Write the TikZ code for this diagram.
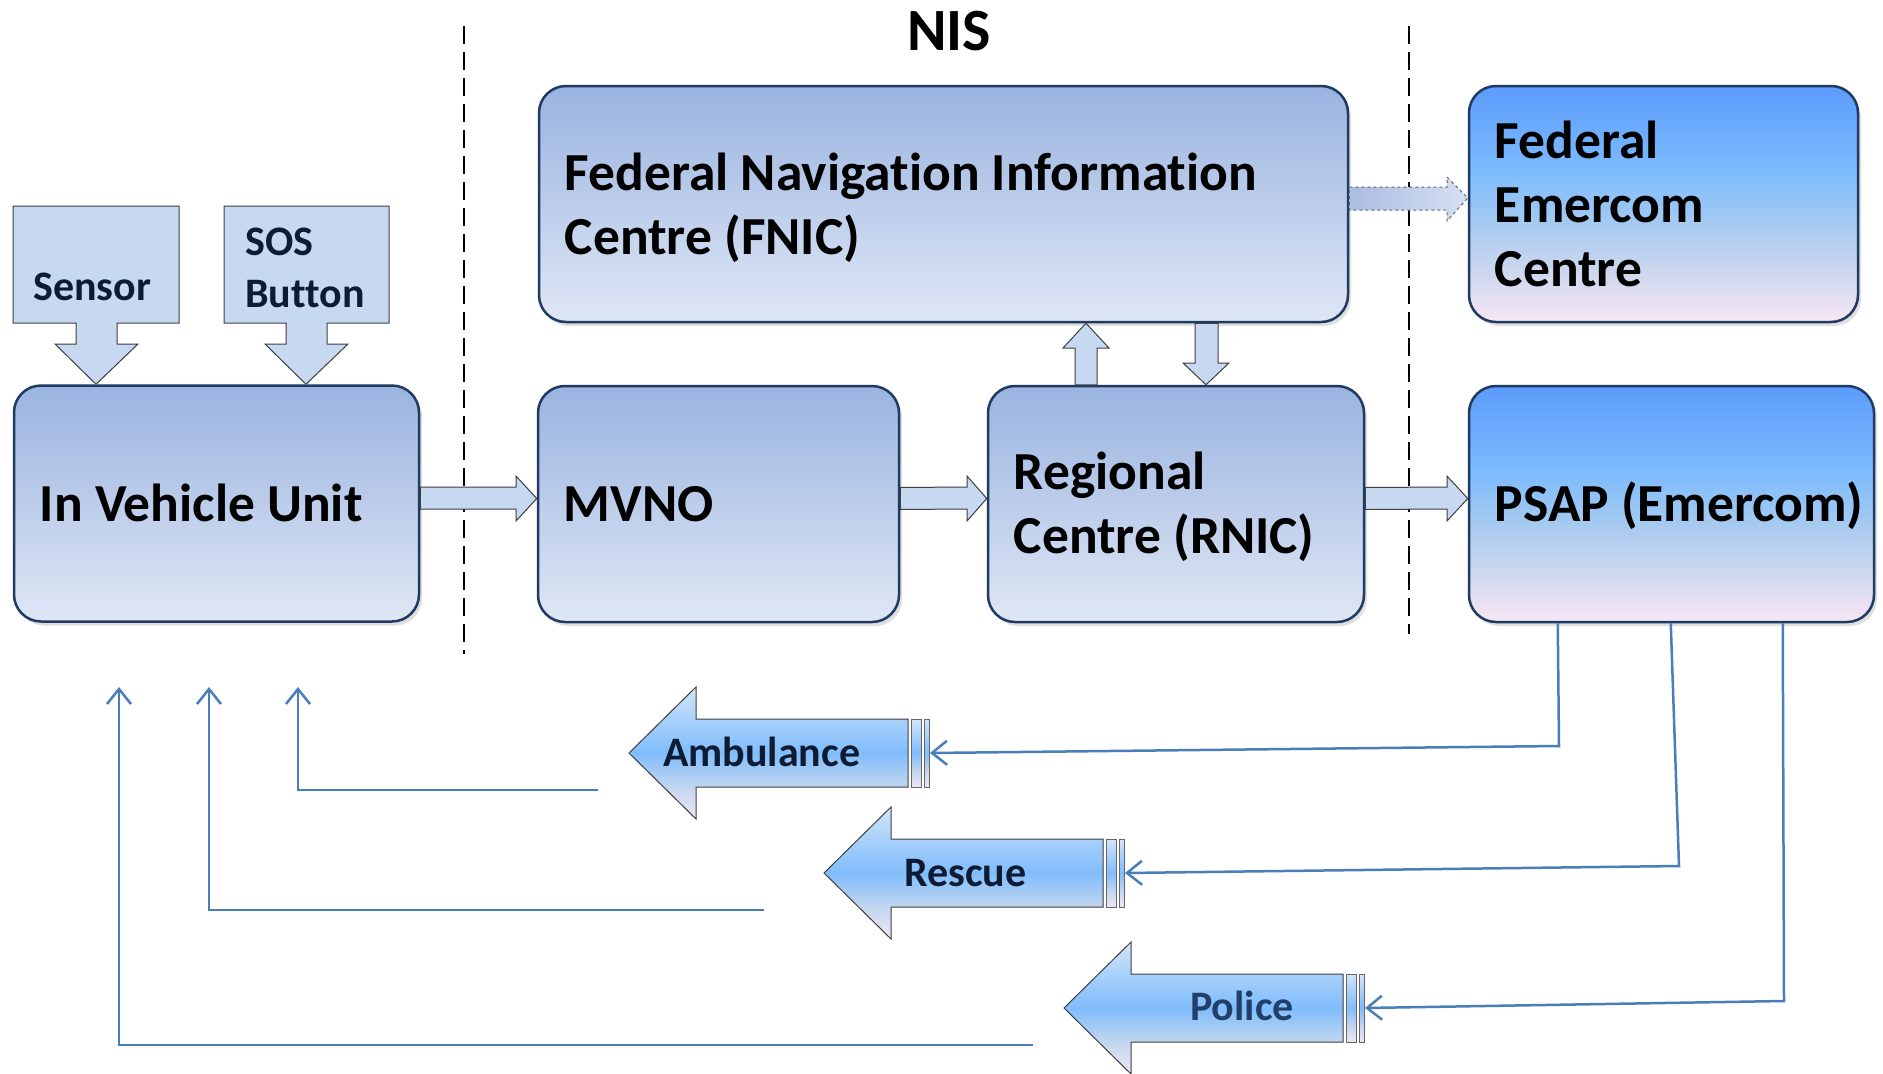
\documentclass[tikz,border=0pt]{standalone}
\usepackage{fontspec}
\setmainfont{Carlito}[Ligatures=NoCommon]
\usetikzlibrary{arrows.meta,shadows,calc}
\definecolor{boxline}{HTML}{1F3B63}
\definecolor{boxtop}{HTML}{9AB3E0}
\definecolor{boxbot}{HTML}{DFE7F5}
\definecolor{blkfill}{HTML}{C6D9F1}
\definecolor{blkline}{HTML}{3F3F3F}
\definecolor{fbline}{HTML}{4A7EBB}
\definecolor{txtdark}{HTML}{0F1B33}
\definecolor{txtpolice}{HTML}{223F69}
\definecolor{dashL}{HTML}{A9BCE2}
\definecolor{dashR}{HTML}{D6E0F2}
\definecolor{emA}{HTML}{F8E6F5}
\definecolor{emB}{HTML}{D0D8EE}
\definecolor{emC}{HTML}{A9CBF0}
\definecolor{emD}{HTML}{7CBBFD}
\definecolor{emE}{HTML}{5C9CFB}
\definecolor{arA}{HTML}{EFE5F5}
\definecolor{arB}{HTML}{C3D6EF}
\definecolor{arC}{HTML}{80BDFC}
\definecolor{arD}{HTML}{A6CFFB}
\definecolor{arE}{HTML}{D4E5F8}
\pgfdeclareverticalshading{emshade}{100bp}{color(0bp)=(emA); color(25bp)=(emA); color(35bp)=(emB); color(45bp)=(emC); color(57bp)=(emD); color(75bp)=(emE); color(100bp)=(emE)}
\pgfdeclareverticalshading{arrshade}{100bp}{color(0bp)=(arA); color(25bp)=(arA); color(37bp)=(arB); color(50bp)=(arC); color(62bp)=(arD); color(75bp)=(arE); color(100bp)=(arE)}
% left-pointing block arrow: tip x, centre y, name of entry coordinate
\newcommand{\emarrow}[3]{%
  \draw[emblock] (#1,#2) -- ({#1+67},{#2-66}) -- ({#1+67},{#2-34}) -- ({#1+279},{#2-34})
     -- ({#1+279},{#2+34}) -- ({#1+67},{#2+34}) -- ({#1+67},{#2+66}) -- cycle;
  \draw[emstripe] ({#1+282},{#2-34}) rectangle ({#1+292},{#2+34});
  \draw[emstripe] ({#1+295},{#2-34}) rectangle ({#1+300},{#2+34});
  \coordinate (#3) at ({#1+301},#2);
}
\begin{document}
\begin{tikzpicture}[x=1pt,y=-1pt,
  mainbox/.style={draw=boxline, line width=2.5pt, rounded corners=27pt,
     top color=boxtop, bottom color=boxbot,
     drop shadow={shadow xshift=3pt,shadow yshift=-4pt,opacity=0.25},
     minimum width=#1, minimum height=236pt, inner sep=0pt},
  embox/.style={draw=boxline, line width=2.5pt, rounded corners=27pt,
     shading=emshade,
     drop shadow={shadow xshift=3pt,shadow yshift=-4pt,opacity=0.25},
     minimum width=#1, minimum height=236pt, inner sep=0pt},
  boxlabel/.style={font=\bfseries\fontsize{53.5}{64}\selectfont, align=left, inner sep=0pt, text=black},
  smalllabel/.style={font=\bfseries\fontsize{42}{52}\selectfont, align=left, inner sep=0pt, text=txtdark},
  blockarrow/.style={fill=blkfill, draw=blkline, line width=1pt},
  dasharrow/.style={left color=dashL, right color=dashR, draw=gray!80!black, dashed, line width=1pt},
  emblock/.style={shading=arrshade, draw=blkline, line width=1pt},
  emstripe/.style={shading=arrshade, draw=blkline!80, line width=1pt},
  fb/.style={draw=fbline, line width=2.5pt, -{Straight Barb[length=15pt,width=24pt]}},
  sepline/.style={draw=black, line width=2.5pt, dash pattern=on 18pt off 8pt}]

\fill[white] (0,0) rectangle (1883,1074);
\useasboundingbox (0,0) rectangle (1883,1074);

% separators and title
\draw[sepline] (464,26) -- (464,654);
\draw[sepline] (1409,26) -- (1409,634);
\node[font=\bfseries\fontsize{60}{72}\selectfont, anchor=base, inner sep=0pt] (nis) at (949,50) {NIS};

% main boxes
\node[mainbox=405pt] (ivu)  at (216.5,503.5) {};
\node[mainbox=361pt] (mvno) at (718.5,504) {};
\node[mainbox=376pt] (rnic) at (1176,504) {};
\node[mainbox=809pt] (fnic) at (943.5,204) {};
\node[embox=389pt]   (fed)  at (1663.5,204) {};
\node[embox=405pt]   (psap) at (1671.5,504) {};

\node[boxlabel, anchor=base west] (ivut)  at ($(ivu.west)+(27,18)$) {In Vehicle Unit};
\node[boxlabel, anchor=base west] (mvnot) at ($(mvno.west)+(27,17)$) {MVNO};
\node[boxlabel, anchor=west] (rnict) at ($(rnic.west)+(27,3)$) {Regional\\Centre (RNIC)};
\node[boxlabel, anchor=west] (fnict) at ($(fnic.west)+(27,4)$) {Federal Navigation Information\\Centre (FNIC)};
\node[boxlabel, anchor=west] (fedt)  at ($(fed.west)+(27,0)$) {Federal\\Emercom\\Centre};
\node[boxlabel, anchor=base west] (psapt) at ($(psap.west)+(27,17)$) {PSAP (Emercom)};

% input callouts
\draw[blockarrow] (13,206) -- (179,206) -- (179,323) -- (117,323) -- (117,344) -- (138,344)
   -- ($(ivu.north)+(-120.5,0)$) -- (55,344) -- (76,344) -- (76,323) -- (13,323) -- cycle;
\draw[blockarrow] (224,206) -- (389,206) -- (389,323) -- (327,323) -- (327,344) -- (348,344)
   -- ($(ivu.north)+(89.5,0)$) -- (265,344) -- (286,344) -- (286,323) -- (224,323) -- cycle;
\node[smalllabel, anchor=base west] (sensor) at (33,300) {Sensor};
\node[smalllabel, anchor=west] (sos) at (245,268) {SOS\\Button};

% block arrows between boxes
\draw[blockarrow] ($(ivu.east)+(0,-16.5)$) -- (516,487) -- (516,476) -- ($(mvno.west)+(0,-5.5)$)
   -- (516,521) -- (516,509) -- ($(ivu.east)+(0,5.5)$) -- cycle;
\draw[blockarrow] ($(mvno.east)+(0,-16.5)$) -- (967,487) -- (967,476) -- ($(rnic.west)+(0,-5.5)$)
   -- (967,521) -- (967,509) -- ($(mvno.east)+(0,5.5)$) -- cycle;
\draw[blockarrow] ($(rnic.east)+(0,-16.5)$) -- (1447,487) -- (1447,476) -- ($(psap.west)+(0,-5.5)$)
   -- (1447,521) -- (1447,509) -- ($(rnic.east)+(0,5.5)$) -- cycle;
\draw[dasharrow] ($(fnic.east)+(0,-17)$) -- (1447,187) -- (1447,177) -- ($(fed.west)+(0,-6)$)
   -- (1447,221) -- (1447,210) -- ($(fnic.east)+(0,6)$) -- cycle;
\draw[blockarrow] ($(rnic.north)+(-101,0)$) -- (1075,348) -- (1063,348) -- ($(fnic.south)+(142.5,0)$)
   -- (1109,348) -- (1097,348) -- ($(rnic.north)+(-79,0)$) -- cycle;
\draw[blockarrow] ($(fnic.south)+(251.5,0)$) -- ($(fnic.south)+(274.5,0)$) -- (1218,363) -- (1229,363)
   -- ($(rnic.north)+(30,0)$) -- (1183,363) -- (1195,363) -- cycle;

% service arrows
\emarrow{629}{753}{ambin}
\emarrow{824}{873}{resin}
\emarrow{1064}{1008}{polin}
\node[smalllabel, anchor=base west] (amb) at (663,766) {Ambulance};
\node[smalllabel, anchor=base west] (res) at (904,886) {Rescue};
\node[smalllabel, anchor=base west, text=txtpolice] (pol) at (1190,1020) {Police};

% PSAP dispatch lines
\draw[fb] ($(psap.south west)+(90,0)$) -- (1559,746) -- (ambin);
\draw[fb] ($(psap.south west)+(203,0)$) -- (1679,866) -- (resin);
\draw[fb] ($(psap.south west)+(315,0)$) -- (1784,1001) -- (polin);

% feedback lines to vehicle
\coordinate (a0) at (598,790);
\coordinate (a1) at (298,687);
\coordinate (r0) at (764,910);
\coordinate (r1) at (209,687);
\coordinate (p0) at (1033,1045);
\coordinate (p1) at (119,687);
\draw[fb] (a0) -- (298,790) -- (a1);
\draw[fb] (r0) -- (209,910) -- (r1);
\draw[fb] (p0) -- (119,1045) -- (p1);
\end{tikzpicture}
\end{document}
